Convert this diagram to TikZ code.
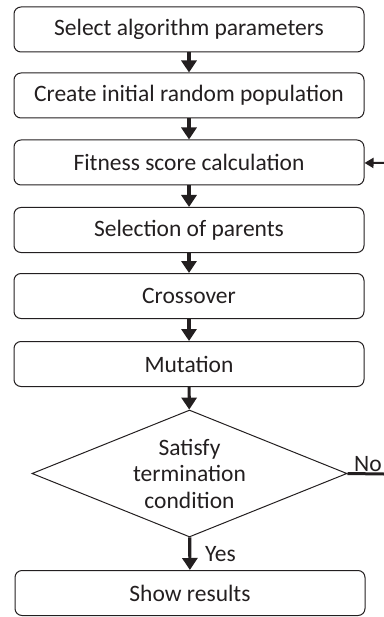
\documentclass[tikz,border=0pt]{standalone}
\usepackage{fontspec}
\setmainfont{Carlito}
\usetikzlibrary{shapes.geometric,arrows.meta}
\definecolor{ink}{HTML}{231F20}
\begin{document}
\begin{tikzpicture}[x=1pt,y=-1pt,
  stepbox/.style={draw=ink,line width=1pt,rounded corners=7pt,minimum width=350pt,minimum height=45pt,inner sep=0pt,font=\fontsize{23.5}{28}\selectfont,text=ink},
  flow/.style={draw=ink,line width=3.2pt,-{Triangle[width=15pt,length=12pt]}},
  back/.style={draw=ink,line width=2pt,-{Triangle[width=10pt,length=9pt]}},
  lbl/.style={font=\fontsize{23.5}{28}\selectfont,text=ink,inner sep=0pt}]
\useasboundingbox (0,0) rectangle (383,617);
\node[stepbox] (b1) at (189,29.5) {Select algorithm parameters};
\node[stepbox] (b2) at (189,95.5) {Create initial random population};
\node[stepbox] (b3) at (189,162.5) {Fitness score calculation};
\node[stepbox] (b4) at (189,230) {Selection of parents};
\node[stepbox] (b5) at (189,296) {Crossover};
\node[stepbox] (b6) at (189,364) {Mutation};
\node[draw=ink,line width=1pt,diamond,aspect=2.48,minimum width=315pt,minimum height=127pt,inner sep=0pt,align=center,font=\fontsize{23.5}{26.5}\selectfont,text=ink] (d) at (189.5,473.5) {Satisfy\\termination\\condition};
\node[stepbox] (b7) at (190,593) {Show results};
\coordinate (fb) at (384,163);
\coordinate (nb) at (384,474);
\draw[flow] (b1) -- (b2);
\draw[flow] (b2) -- (b3);
\draw[flow] (b3) -- (b4);
\draw[flow] (b4) -- (b5);
\draw[flow] (b5) -- (b6);
\draw[flow] (b6) -- (d);
\draw[flow] (d) -- (b7);
\draw[back] (fb) -- (b3);
\draw[draw=ink,line width=3pt] (d.east) -- (nb);
\node[lbl,anchor=base west] (yes) at (205,561) {Yes};
\node[lbl,anchor=base east] (no) at (382,471) {No};
\end{tikzpicture}
\end{document}
